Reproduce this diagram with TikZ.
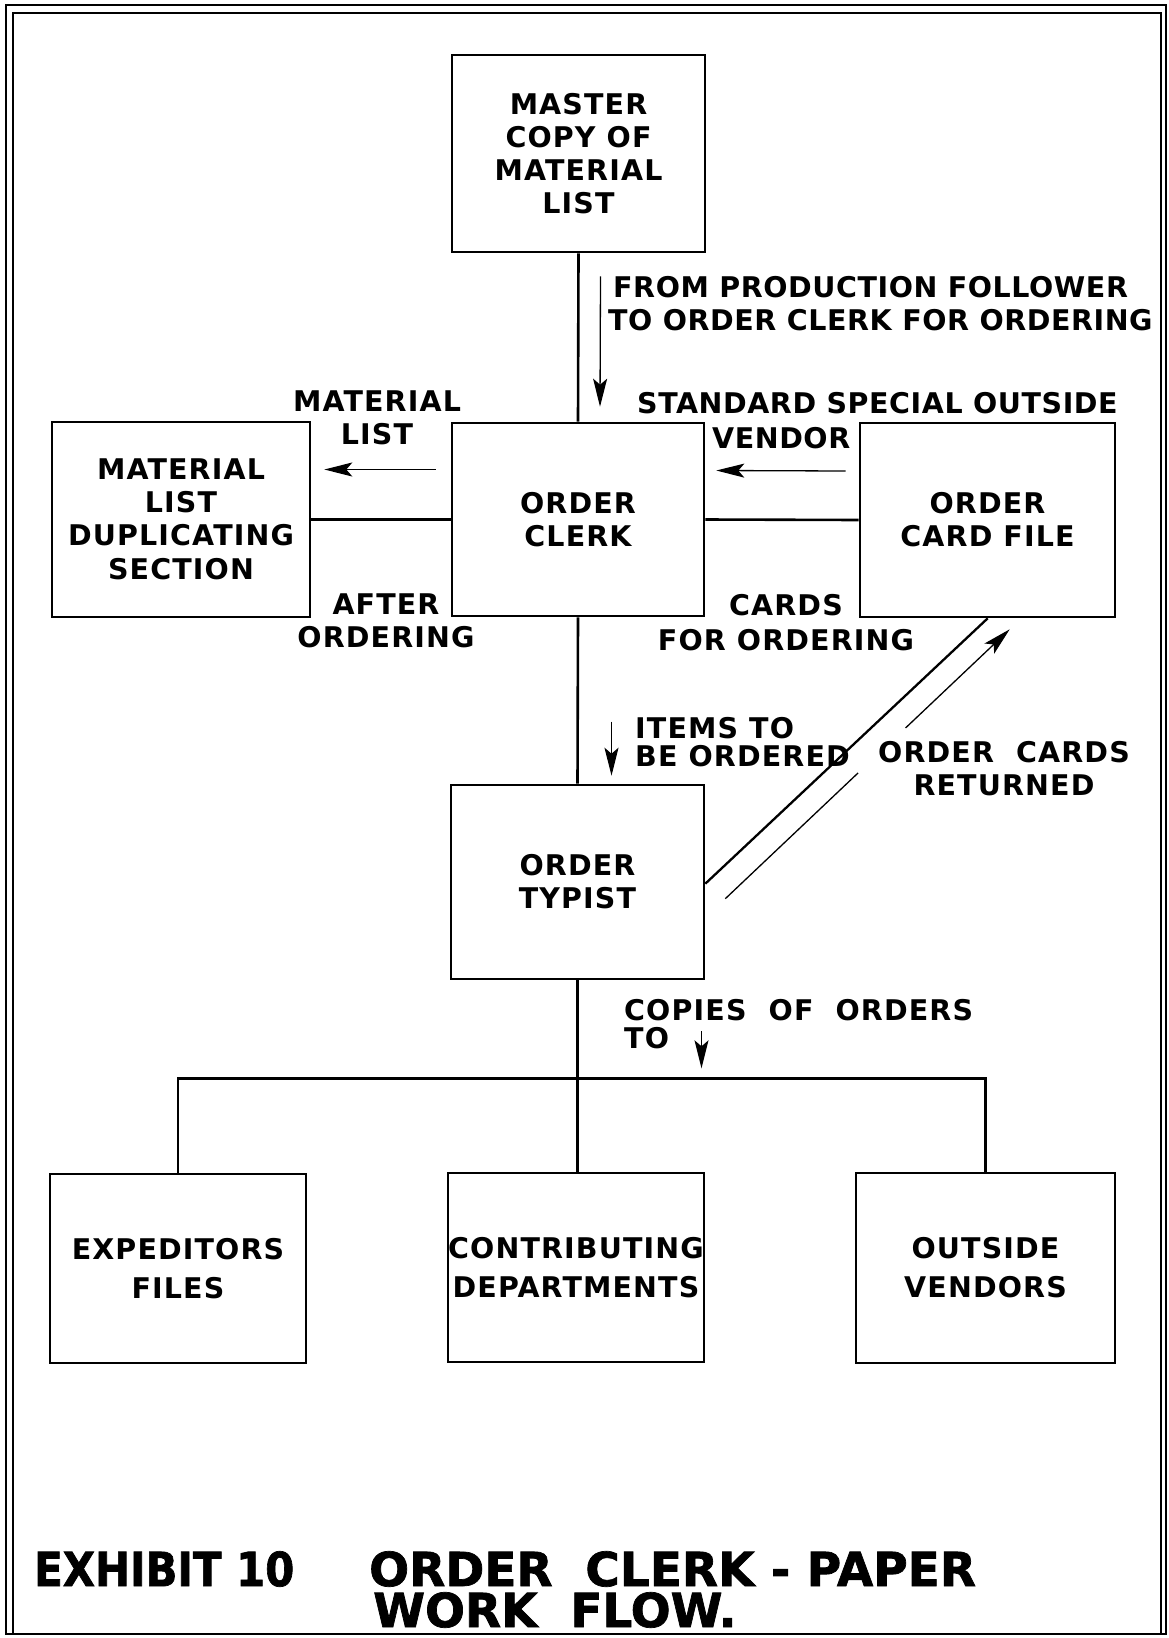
\documentclass[tikz,border=0pt]{standalone}
\usepackage{graphicx}
\usepackage{fontspec}
\setmainfont{DejaVu Sans}
\newfontfamily\lettfam{DejaVu Sans}[LetterSpace=4]
\newfontfamily\narrowlettfam{DejaVu Sans}[LetterSpace=2]
\newfontfamily\titlefam{DejaVu Sans}[BoldFeatures={FakeBold=1.5}]
\usetikzlibrary{arrows.meta,calc}

% lettering sizes (1pt = one unit of the drawing grid)
\newcommand\lettering{\lettfam\bfseries\fontsize{28.5}{33}\selectfont}
\newcommand\narrowlettering{\narrowlettfam\bfseries\fontsize{28.5}{33}\selectfont}
\newcommand\lowlettering{\lettfam\bfseries\fontsize{28.5}{39}\selectfont}
\newcommand\tightlettering{\lettfam\bfseries\fontsize{28.5}{28.5}\selectfont}
\newcommand\titlelettering{\titlefam\bfseries\fontsize{47}{39}\selectfont}

\begin{document}
\begin{tikzpicture}[x=1pt,y=-1pt,
  box/.style={draw, line width=2.6pt, rectangle, align=center,
              font=\lettering, inner sep=0pt},
  lowbox/.style={box, font=\lowlettering},
  conn/.style={line width=2.6pt},
  flowline/.style={line width=1.3pt},
  flow/.style={flowline, -{Stealth[length=28pt,width=14pt,inset=6pt]}},
  lbl/.style={font=\lettering, inner sep=0pt},
  caption/.style={anchor=north west, inner sep=0pt, font=\titlelettering},
]
\useasboundingbox (0,0) rectangle (1169,1638);
\fill[white] (0,0) rectangle (1169,1638);

% double frame
\draw[line width=2pt] (6,5) rectangle (1166,1634);
\draw[line width=2pt] (13,13) rectangle (1161,1634);

% offices and files
\node[box, minimum width=253pt, minimum height=197pt] (master) at (578.5,153.5)
  {MASTER\\COPY OF\\MATERIAL\\LIST};
\node[box, minimum width=252pt, minimum height=193pt] (clerk) at (578,519.5)
  {ORDER\\CLERK};
\node[box, minimum width=258pt, minimum height=195pt] (dup) at (181,519.5)
  {MATERIAL\\LIST\\DUPLICATING\\[1pt]SECTION};
\node[box, minimum width=255pt, minimum height=194pt] (card) at (987.5,520)
  {ORDER\\CARD FILE};
\node[box, minimum width=253pt, minimum height=194pt] (typist) at (577.5,882)
  {ORDER\\TYPIST};
\node[lowbox, minimum width=256pt, minimum height=189pt] (expd) at (178,1268.5)
  {EXPEDITORS\\FILES};
\node[lowbox, minimum width=253pt, minimum height=189pt] (contrib) at (576,1267.5)
  {CONTRIBUTING\\DEPARTMENTS};
\node[lowbox, minimum width=259pt, minimum height=190pt] (vend) at (985.5,1268)
  {OUTSIDE\\VENDORS};

% connecting lines
\draw[conn] (master.south) -- (clerk.north);
\draw[conn] (clerk.west) -- (dup.east);
\draw[conn] (clerk.east) -- (card.west);
\draw[conn] (clerk.south) -- (typist.north);
\coordinate (bus) at ($(typist.south)+(0,98)$);
\draw[conn] (typist.south) -- (typist.south |- contrib.north);
\draw[conn] (expd.north) |- (bus) -| (vend.north);
\coordinate (diagTop) at ($(card.south west)+(129,0)$);
\coordinate (diagBot) at ($(typist.north east)+(0,100)$);
\draw[conn, line width=2.3pt] (diagTop) -- (diagBot);

% direction of flow
\draw[flow] ($(master.south)+(22,23)$) -- ($(clerk.north)+(22,-15)$);
\draw[flow] ($(clerk.west)+(-15,-50)$) -- ($(dup.east)+(13,-50)$);
\draw[flow] ($(card.west)+(-13,-49)$) -- ($(clerk.east)+(11,-49)$);
\draw[flow] ($(typist.north)+(34,-62)$) -- ($(typist.north)+(34,-8)$);
\draw[flow] ($(bus)+(124,-47)$) -- ($(bus)+(124,-10)$);
\coordinate (retS) at ($(typist.north east)+(20,115)$);
\coordinate (retE) at ($(card.south west)+(151,11)$);
\draw[flowline] (retS) -- ($(retS)!0.467!(retE)$);
\draw[flow] ($(retS)!0.634!(retE)$) -- (retE);

% flow labels
\node[lbl, anchor=north west, align=left, font=\narrowlettering] (lfrom) at (608,276)
  {\hspace*{5pt}FROM~PRODUCTION~FOLLOWER\\TO ORDER~CLERK~FOR~ORDERING};
\node[lbl, anchor=north west, align=left, font=\narrowlettering] (lstd) at (637,392)
  {STANDARD SPECIAL OUTSIDE\\[2pt]\hspace*{75pt}VENDOR};
\node[lbl, anchor=north, align=center] (lmat) at (377,391) {MATERIAL\\LIST};
\node[lbl, anchor=north, align=center] (lafter) at (386,594) {AFTER\\ORDERING};
\node[lbl, anchor=north, align=center] (lcards) at (786,594) {CARDS\\[2pt]FOR ORDERING};
\node[lbl, anchor=north west, align=left, font=\tightlettering] (litems) at (635,717)
  {ITEMS TO\\BE ORDERED};
\node[lbl, anchor=north, align=center] (lret) at (1004,741) {ORDER~~CARDS\\RETURNED};
\node[lbl, anchor=north west, align=left, font=\tightlettering] (lcopies) at (624,999)
  {COPIES~~OF~~ORDERS\\TO};

% caption
\node[caption] (exh) at (34,1551) {\scalebox{0.89}[1]{EXHIBIT 10}};
\node[caption] (ttl) at (369,1551) {ORDER~~CLERK - PAPER};
\node[caption] (ttl2) at (373,1592) {WORK~~FLOW.};
\end{tikzpicture}
\end{document}
